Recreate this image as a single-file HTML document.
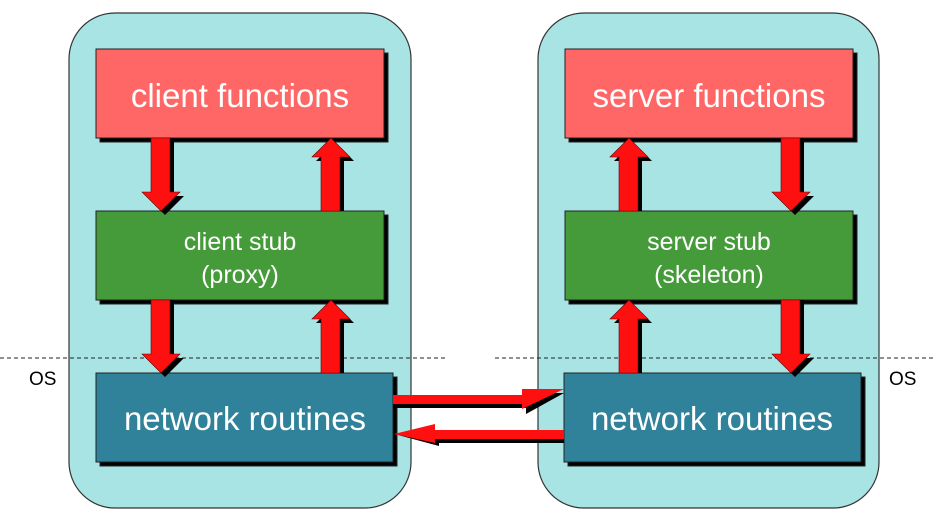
<!DOCTYPE html>
<html><head><style>body{margin:0;background:#fff}svg{display:block}text{font-family:"Liberation Sans",Arial,sans-serif}</style></head>
<body>
<svg width="936" height="521" viewBox="0 0 936 521">
<rect x="69" y="13" width="342" height="495" rx="46" fill="#a8e4e4" stroke="#333" stroke-width="1.2"/>
<rect x="538" y="13" width="341" height="495" rx="46" fill="#a8e4e4" stroke="#333" stroke-width="1.2"/>
<line x1="0" y1="358" x2="445" y2="358" stroke="#222" stroke-dasharray="4,3"/>
<line x1="495" y1="358" x2="936" y2="358" stroke="#222" stroke-dasharray="4,3"/>
<text x="29" y="385" font-size="19">OS</text>
<text x="889" y="385" font-size="19">OS</text>

<g stroke="#222" stroke-width="1">
<rect x="100" y="53" width="288" height="89" fill="#000"/>
<rect x="96" y="49" width="288" height="89" fill="#ff6666"/>
<rect x="100" y="215" width="288" height="89" fill="#000"/>
<rect x="96" y="211" width="288" height="89" fill="#459a3a"/>
<rect x="100" y="377" width="297" height="89" fill="#000"/>
<rect x="96" y="373" width="297" height="89" fill="#2f8299"/>
<rect x="569" y="53" width="288" height="89" fill="#000"/>
<rect x="565" y="49" width="288" height="89" fill="#ff6666"/>
<rect x="569" y="215" width="288" height="89" fill="#000"/>
<rect x="565" y="211" width="288" height="89" fill="#459a3a"/>
<rect x="568" y="377" width="297" height="89" fill="#000"/>
<rect x="564" y="373" width="297" height="89" fill="#2f8299"/>
</g>
<g fill="#fff" text-anchor="middle">
<text x="240" y="107" font-size="33">client functions</text>
<text x="709" y="107" font-size="33">server functions</text>
<text x="240" y="250" font-size="25">client stub</text>
<text x="240" y="283" font-size="25">(proxy)</text>
<text x="709" y="250" font-size="25">server stub</text>
<text x="709" y="283" font-size="25">(skeleton)</text>
<text x="245" y="430" font-size="33">network routines</text>
<text x="712" y="430" font-size="33">network routines</text>
</g>

<g fill="#000">
<path d="M155,138 H174 V196 H184 L165,215 L146,196 H155Z"/>
<path d="M155,300 H174 V358 H184 L165,377 L146,358 H155Z"/>
<path d="M785,138 H804 V196 H814 L795,215 L776,196 H785Z"/>
<path d="M785,300 H804 V358 H814 L795,377 L776,358 H785Z"/>
<path d="M325,211 H344 V161 H354 L335,142 L316,161 H325Z"/>
<path d="M325,373 H344 V323 H354 L335,304 L316,323 H325Z"/>
<path d="M623,211 H642 V161 H652 L633,142 L614,161 H623Z"/>
<path d="M623,373 H642 V323 H652 L633,304 L614,323 H623Z"/>
</g>
<g fill="#ff1010" stroke="#600" stroke-width="0.6">
<path d="M151,138 H170 V192 H180 L161,211 L142,192 H151Z"/>
<path d="M151,300 H170 V354 H180 L161,373 L142,354 H151Z"/>
<path d="M781,138 H800 V192 H810 L791,211 L772,192 H781Z"/>
<path d="M781,300 H800 V354 H810 L791,373 L772,354 H781Z"/>
<path d="M321,211 H340 V157 H350 L331,138 L312,157 H321Z"/>
<path d="M321,373 H340 V319 H350 L331,300 L312,319 H321Z"/>
<path d="M619,211 H638 V157 H648 L629,138 L610,157 H619Z"/>
<path d="M619,373 H638 V319 H648 L629,300 L610,319 H619Z"/>
</g>
<path fill="#000" d="M393,399 H526 V393 H564 L526,414 V408 H393Z"/>
<path fill="#ff1010" d="M393,395 H522 V389 H564 L522,409 V404 H393Z"/>
<path fill="#000" d="M564,435 H439 V446 L398,435 L439,433 V443 H564Z"/>
<path fill="#ff1010" d="M564,430 H435 V424 L394,434 L435,443 V439 H564Z"/>
</svg>
</body></html>
